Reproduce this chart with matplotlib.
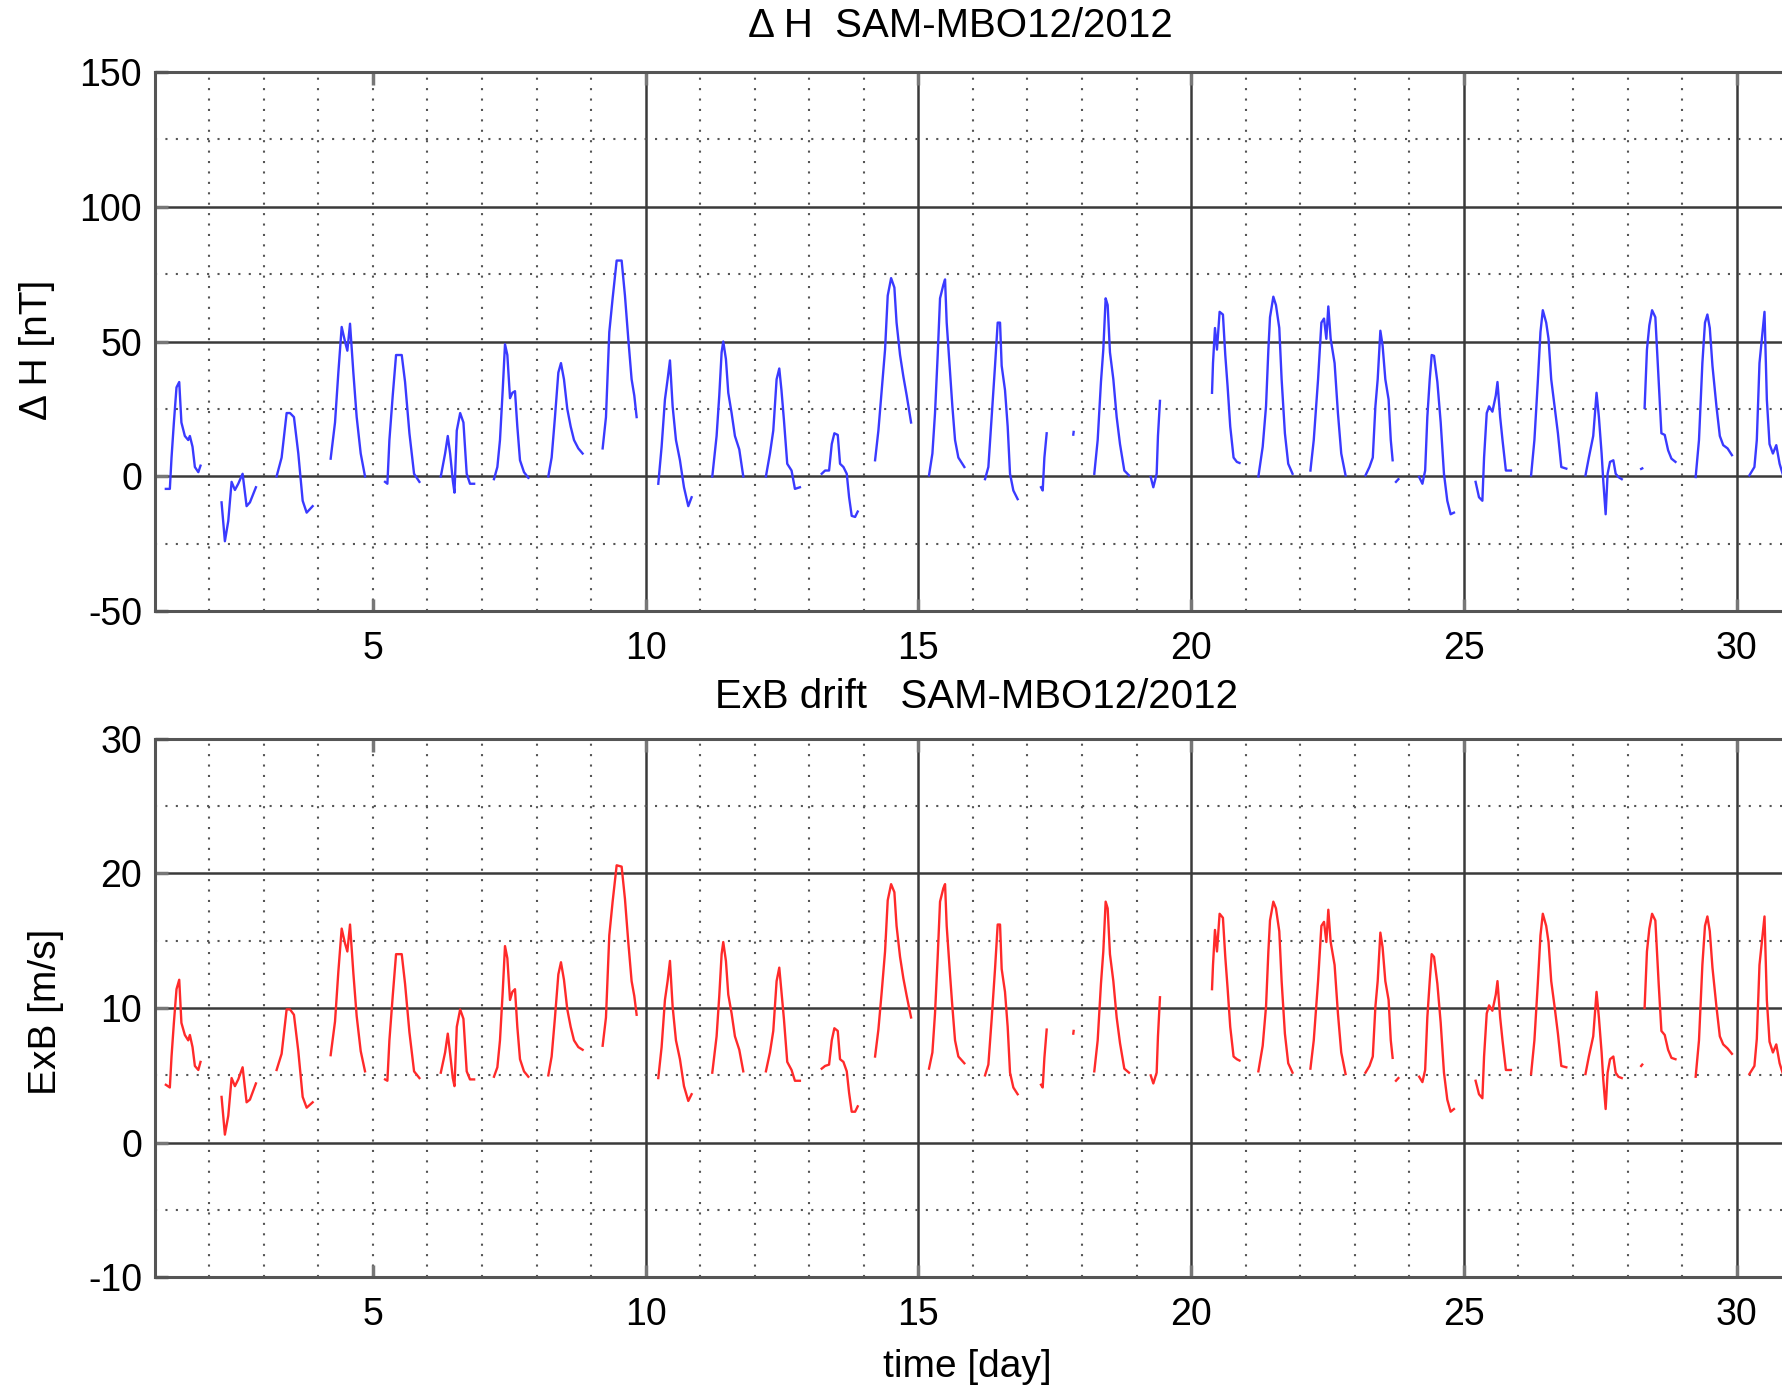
import numpy as np
import matplotlib
matplotlib.use("Agg")
import matplotlib.pyplot as plt

plt.rcParams['font.family'] = ['Liberation Sans', 'DejaVu Sans']
plt.rcParams['axes.unicode_minus'] = False

nan = np.nan

# time [day], gaps (night) marked with nan
t = [1.205, 1.278, 1.309, 1.352, 1.40, 1.45, 1.49, 1.553, 1.615, 1.645, 1.694, 1.737, 1.80, 1.84, nan,
     2.226, 2.287, 2.349, 2.41, 2.471, 2.532, 2.612, 2.685, 2.746, 2.856, nan,
     3.235, 3.327, 3.419, 3.48, 3.553, 3.633, 3.713, 3.786, 3.896, nan,
     4.226, 4.306, 4.367, 4.428, 4.489, 4.532, 4.581, 4.642, 4.703, 4.777, 4.856, nan,
     5.223, 5.266, 5.303, 5.364, 5.425, 5.529, 5.59, 5.67, 5.755, 5.853, nan,
     6.245, 6.324, 6.373, 6.416, 6.465, 6.496, 6.538, 6.6, 6.66, 6.72, 6.78, 6.856, nan,
     7.22, 7.282, 7.33, 7.38, 7.422, 7.465, 7.514, 7.557, 7.605, 7.648, 7.697, 7.77, 7.85, nan,
     8.216, 8.277, 8.338, 8.4, 8.448, 8.503, 8.564, 8.626, 8.687, 8.766, 8.845, nan,
     9.212, 9.273, 9.334, 9.395, 9.469, 9.56, 9.621, 9.682, 9.743, 9.792, 9.835, nan,
     10.232, 10.293, 10.354, 10.403, 10.446, 10.495, 10.556, 10.629, 10.703, 10.782, 10.843, nan,
     11.222, 11.301, 11.35, 11.393, 11.423, 11.472, 11.515, 11.576, 11.637, 11.717, 11.79, nan,
     12.205, 12.279, 12.34, 12.401, 12.45, 12.49, 12.535, 12.596, 12.675, 12.737, 12.828, nan,
     13.228, 13.29, 13.363, 13.412, 13.46, 13.522, 13.564, 13.626, 13.687, 13.73, 13.778, 13.84, 13.888, nan,
     14.206, 14.267, 14.328, 14.389, 14.438, 14.5, 14.56, 14.6, 14.664, 14.725, 14.786, 14.866, nan,
     15.195, 15.257, 15.305, 15.354, 15.397, 15.458, 15.489, 15.519, 15.58, 15.623, 15.672, 15.733, 15.843, nan,
     16.222, 16.283, 16.344, 16.405, 16.454, 16.497, 16.527, 16.588, 16.637, 16.68, 16.741, 16.82, nan,
     17.248, 17.279, 17.31, 17.352, nan,
     17.84, 17.846, nan,
     18.225, 18.287, 18.347, 18.39, 18.433, 18.47, 18.512, 18.574, 18.635, 18.696, 18.775, 18.861, nan,
     19.259, 19.307, 19.368, 19.392, 19.429, nan,
     20.383, 20.401, 20.437, 20.474, 20.522, 20.583, 20.626, 20.668, 20.717, 20.778, 20.838, 20.887, nan,
     21.233, 21.312, 21.373, 21.416, 21.446, 21.507, 21.555, 21.616, 21.659, 21.719, 21.78, 21.859, nan,
     22.187, 22.248, 22.327, 22.388, 22.436, 22.479, 22.515, 22.558, 22.63, 22.691, 22.752, 22.831, nan,
     23.196, 23.269, 23.33, 23.378, 23.42, 23.469, 23.51, 23.56, 23.62, 23.66, 23.694, nan,
     23.755, 23.80, nan,
     24.18, 24.24, 24.29, 24.33, 24.374, 24.41, 24.453, 24.514, 24.575, 24.635, 24.696, 24.757, 24.818, nan,
     25.215, 25.277, 25.339, 25.37, 25.419, 25.462, 25.523, 25.585, 25.616, 25.665, 25.708, 25.77, 25.862, nan,
     26.232, 26.293, 26.355, 26.404, 26.447, 26.509, 26.552, 26.601, 26.663, 26.724, 26.786, 26.878, nan,
     27.229, 27.291, 27.371, 27.432, 27.475, 27.525, 27.555, 27.599, 27.635, 27.679, 27.74, 27.783, 27.833, 27.894, nan,
     28.25, 28.27, nan,
     28.313, 28.356, 28.4, 28.45, 28.51, 28.571, 28.621, 28.682, 28.744, 28.805, 28.879, nan,
     29.249, 29.31, 29.372, 29.42, 29.464, 29.508, 29.557, 29.63, 29.692, 29.754, 29.834, 29.914, nan,
     30.234, 30.326, 30.37, 30.419, 30.468, 30.511, 30.554, 30.603, 30.665, 30.727, 30.788, 30.88]

# Delta H [nT]
dH = [-4.6, -4.6, 7, 20, 33, 35, 20, 15, 13.5, 15, 11, 3.5, 1.6, 4, nan,
      -9.6, -24, -16.5, -2, -5, -2.7, 1, -11, -9.6, -4, nan,
      0, 7, 23.5, 23.5, 22, 8.5, -9, -13.4, -11, nan,
      6.6, 20, 38.5, 55.4, 50, 46.6, 56.6, 38.5, 22, 8.5, 0, nan,
      -2, -2.7, 13.5, 30, 45, 45, 35, 16, 1, -2, nan,
      0, 8.5, 15, 8.5, -1.5, -6, 17, 23.5, 20, 1, -2.7, -2.7, nan,
      -1, 3.5, 13.5, 32, 49, 45, 29, 31, 31.6, 18.5, 6, 1.6, -0.5, nan,
      0, 7, 22, 38.5, 42, 36, 25, 18.5, 13.5, 10.4, 8.5, nan,
      10.4, 22, 53.5, 66, 80, 80, 67, 51, 36, 30, 22, nan,
      -2.7, 11, 28.5, 36, 43, 26, 13.5, 6, -4, -11, -7.7, nan,
      0, 15, 30, 46, 50, 43.5, 31, 23.5, 15, 10, 0, nan,
      0, 8.5, 17, 36, 40, 32, 21, 4.7, 2.2, -4.6, -4, nan,
      1, 2.2, 2.2, 12, 16, 15.4, 4.7, 3.5, 1, -7.7, -14.6, -15, -13, nan,
      6, 17, 32, 47, 67, 73.5, 70, 57, 45, 37, 30, 20, nan,
      0.4, 8.5, 23.5, 45, 66, 71, 73, 57, 38.5, 26, 13.5, 7, 3.5, nan,
      -1, 3.5, 22, 41, 57, 57, 41, 32, 18.5, 1, -5.2, -8.4, nan,
      -4, -5.2, 7, 16, nan,
      15.5, 16.5, nan,
      1, 13.5, 35, 47, 66, 63.5, 46, 36, 22, 12, 2.2, 0.4, nan,
      -0.2, -4, 1, 15, 28, nan,
      31, 42, 55, 47, 61, 60, 45, 33.5, 18.5, 7, 5.4, 5, nan,
      0, 11, 26, 47, 59, 66.6, 63.5, 55, 36, 16, 4.7, 1, nan,
      2.2, 13.5, 36, 57, 58.5, 51, 63, 51, 42, 23.5, 8.5, 0.4, nan,
      0.4, 3.5, 7, 26, 36, 54, 48.5, 36, 28.5, 13.5, 6, nan,
      -2, -1, nan,
      -0.2, -2.7, 2.2, 22, 36, 45, 44.7, 35, 20, 1, -9, -14, -13.4, nan,
      -2, -7.7, -9, 7, 23.5, 26, 24, 30, 35, 22, 13.5, 2.2, 2.2, nan,
      0.4, 13.5, 35, 53.5, 61.6, 57, 51, 36, 26, 16, 3.5, 2.9, nan,
      0.4, 7, 15, 31, 22, 8.5, -1.5, -14, 1, 5.4, 6, 1, -0.2, -1, nan,
      2.8, 3.0, nan,
      25.4, 47, 56, 61.6, 59, 35, 16, 15.4, 9.7, 6.6, 5.4, nan,
      -0.2, 13.5, 42, 57, 60, 55, 41, 26, 15, 11.6, 10.4, 7.9, nan,
      0.4, 3.5, 13.5, 42, 52, 61, 28.5, 12, 8.5, 11.6, 4.7, -1.5]

# ExB drift [m/s]
exb = [4.3, 4.1, 6.4, 8.9, 11.4, 12.1, 8.9, 8.0, 7.6, 8.0, 7.1, 5.7, 5.4, 6.0, nan,
       3.4, 0.6, 2.0, 4.8, 4.2, 4.7, 5.6, 3.0, 3.2, 4.4, nan,
       5.4, 6.6, 9.9, 9.9, 9.5, 6.8, 3.4, 2.6, 3.0, nan,
       6.5, 9.0, 12.7, 15.9, 14.8, 14.2, 16.2, 12.6, 9.4, 6.8, 5.3, nan,
       4.7, 4.6, 7.6, 10.9, 14.0, 14.0, 11.8, 8.2, 5.3, 4.8, nan,
       5.2, 6.7, 8.1, 6.6, 4.8, 4.2, 8.6, 9.9, 9.2, 5.3, 4.7, 4.7, nan,
       4.9, 5.6, 7.6, 11.2, 14.6, 13.7, 10.6, 11.2, 11.4, 8.6, 6.2, 5.3, 4.9, nan,
       5.0, 6.4, 9.3, 12.5, 13.4, 12.1, 9.9, 8.6, 7.6, 7.1, 6.9, nan,
       7.2, 9.3, 15.4, 17.9, 20.6, 20.5, 18.1, 14.9, 12.0, 10.9, 9.5, nan,
       4.8, 7.1, 10.6, 12.0, 13.5, 10.1, 7.6, 6.2, 4.2, 3.1, 3.6, nan,
       5.2, 7.9, 10.9, 14.0, 14.9, 13.5, 11.0, 9.6, 7.9, 6.9, 5.3, nan,
       5.3, 6.7, 8.3, 12.0, 13.0, 11.2, 9.2, 6.0, 5.4, 4.6, 4.6, nan,
       5.5, 5.7, 5.8, 7.6, 8.5, 8.3, 6.2, 6.0, 5.3, 3.7, 2.3, 2.3, 2.7, nan,
       6.4, 8.4, 11.2, 14.2, 18.0, 19.2, 18.6, 16.1, 13.8, 12.2, 10.9, 9.3, nan,
       5.5, 6.7, 9.6, 13.8, 17.9, 18.9, 19.2, 16.1, 12.5, 10.1, 7.6, 6.4, 5.9, nan,
       5.0, 5.8, 9.2, 12.9, 16.2, 16.2, 12.9, 11.2, 8.6, 5.2, 4.1, 3.6, nan,
       4.3, 4.1, 6.3, 8.4, nan,
       8.1, 8.3, nan,
       5.3, 7.6, 11.8, 14.2, 17.9, 17.4, 14.0, 12.0, 9.3, 7.4, 5.5, 5.2, nan,
       5.0, 4.4, 5.2, 7.9, 10.8, nan,
       11.4, 13.2, 15.8, 14.2, 17.0, 16.7, 13.8, 11.5, 8.6, 6.4, 6.2, 6.1, nan,
       5.3, 7.2, 10.1, 14.2, 16.5, 17.9, 17.4, 15.7, 12.0, 8.1, 5.9, 5.2, nan,
       5.5, 7.6, 12.0, 16.1, 16.4, 14.9, 17.3, 14.9, 13.2, 9.6, 6.7, 5.1, nan,
       5.2, 5.7, 6.4, 10.1, 12.0, 15.6, 14.5, 12.0, 10.6, 7.6, 6.3, nan,
       4.6, 4.8, nan,
       4.9, 4.5, 5.4, 9.3, 12.0, 14.0, 13.8, 11.8, 8.9, 5.2, 3.2, 2.3, 2.5, nan,
       4.6, 3.6, 3.3, 6.4, 9.6, 10.2, 9.8, 11.0, 12.0, 9.3, 7.6, 5.4, 5.4, nan,
       5.1, 7.6, 11.8, 15.4, 17.0, 16.1, 14.9, 12.0, 10.1, 8.1, 5.7, 5.6, nan,
       5.1, 6.4, 7.9, 11.2, 9.3, 6.7, 4.7, 2.5, 5.2, 6.2, 6.4, 5.2, 4.9, 4.8, nan,
       5.7, 5.8, nan,
       10.0, 14.2, 15.9, 17.0, 16.5, 11.8, 8.3, 8.0, 6.9, 6.3, 6.2, nan,
       4.9, 7.6, 13.2, 16.1, 16.8, 15.7, 13.0, 10.1, 7.9, 7.3, 7.0, 6.6, nan,
       5.1, 5.7, 7.7, 13.2, 15.1, 16.8, 10.6, 7.5, 6.7, 7.3, 5.9, 4.7]

day_ticks = [5, 10, 15, 20, 25, 30]
dH_ticks = [-50, 0, 50, 100, 150]
exb_ticks = [-10, 0, 10, 20, 30]

fig = plt.figure(figsize=(17.82, 13.88), dpi=100)
ax_w = 31 * 54.55 / 1782
ax1 = fig.add_axes([0.0868, 0.5595, ax_w, 0.3889])
ax2 = fig.add_axes([0.0868, 0.0797, ax_w, 0.3881])


def style_axes(ax, ylim, ysolid, ydotted):
    ax.set_xlim(1, 32)
    ax.set_ylim(*ylim)
    for d in range(2, 32):
        if d in (10, 15, 20, 25, 30):
            ax.axvline(d, color='#3a3a3a', lw=1.8, zorder=1)
        else:
            ax.axvline(d, color='#555555', lw=1.5, ls=(0, (1, 4)), zorder=1)
    for v in ysolid:
        ax.axhline(v, color='#3a3a3a', lw=1.8, zorder=1)
    for v in ydotted:
        ax.axhline(v, color='#555555', lw=1.5, ls=(0, (1, 4)), zorder=1)
    ax.set_xticks(day_ticks)
    ax.tick_params(axis='both', direction='in', length=9, width=2.5,
                   color='#777777', labelsize=27, top=True)
    ax.tick_params(axis='x', pad=14)
    ax.tick_params(axis='y', pad=9)
    for s in ax.spines.values():
        s.set_color('#555555')
        s.set_linewidth(2.2)


style_axes(ax1, (-50, 150), [0, 50, 100], [-25, 25, 75, 125])
ax1.set_yticks(dH_ticks)
ax1.plot(t, dH, color='#3a3aff', lw=1.7, zorder=3)

style_axes(ax2, (-10, 30), [0, 10, 20], [-5, 5, 15, 25])
ax2.set_yticks(exb_ticks)
ax2.plot(t, exb, color='#ff2a2a', lw=1.7, zorder=3)

fig.text(0.539, 0.981, 'Δ H  SAM-MBO12/2012', ha='center', va='center', fontsize=29)
fig.text(0.548, 0.498, 'ExB drift   SAM-MBO12/2012', ha='center', va='center', fontsize=29)
fig.text(0.021, 0.748, 'Δ H [nT]', rotation=90, ha='center', va='center', fontsize=28)
fig.text(0.026, 0.271, 'ExB [m/s]', rotation=90, ha='center', va='center', fontsize=28)
fig.text(0.543, 0.015, 'time [day]', ha='center', va='center', fontsize=28)

fig.savefig('out.png', dpi=100)
